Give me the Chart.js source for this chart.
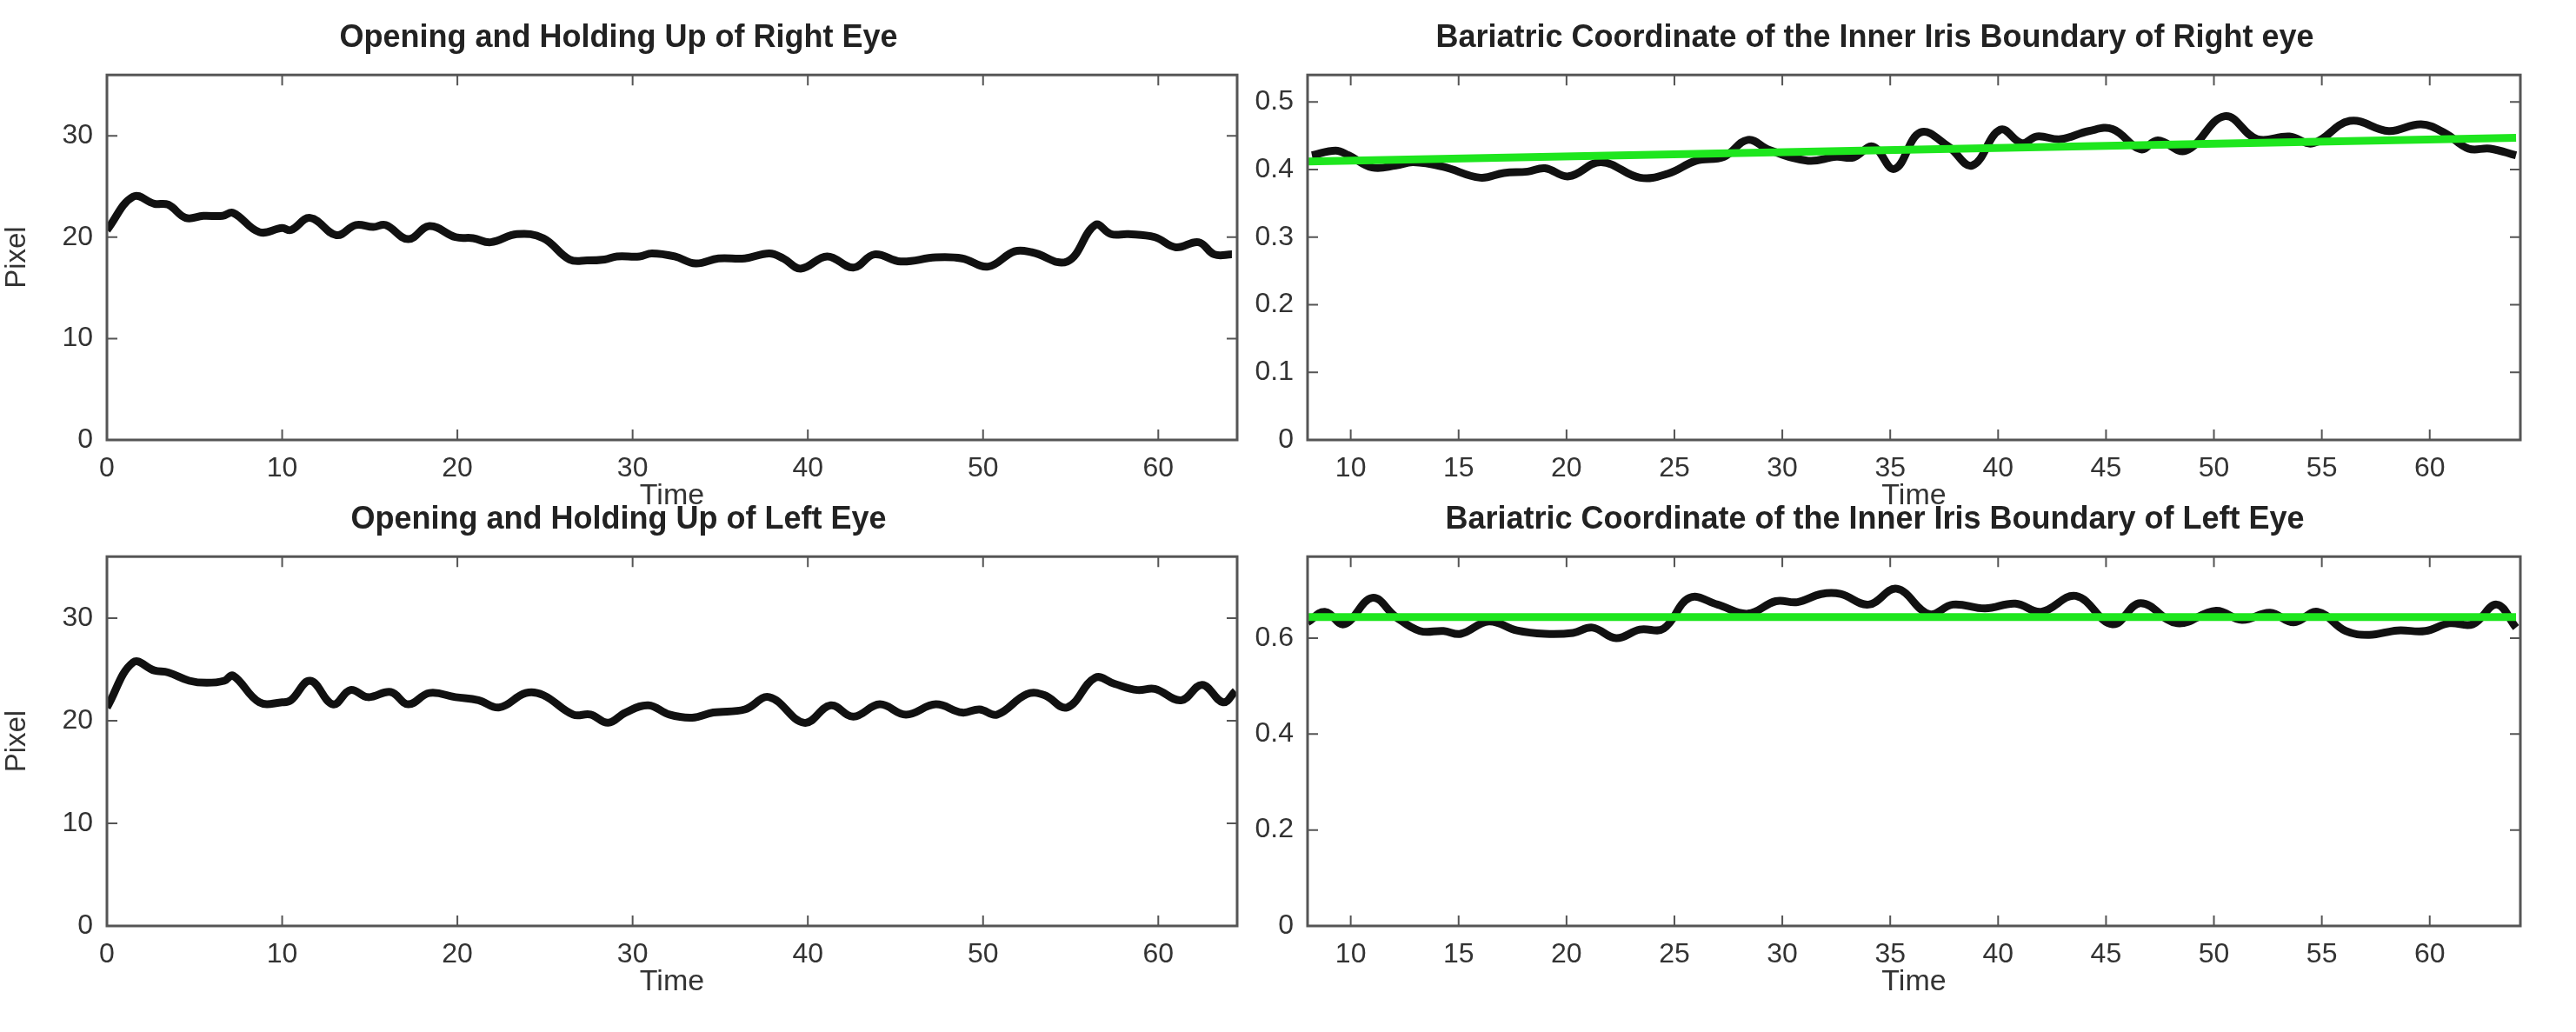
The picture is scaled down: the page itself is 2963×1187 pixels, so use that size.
<!DOCTYPE html>
<html>
<head>
<meta charset="utf-8">
<script src="https://cdn.jsdelivr.net/npm/chart.js@4.4.1/dist/chart.umd.min.js"></script>
<style>
  body { margin: 0; background: #fff; width: 2963px; height: 1187px; overflow: hidden; }
  .panel { position: absolute; }
</style>
</head>
<body>
<div class="panel" id="p1" style="left:0px;top:22px;width:1436px;height:569px"><canvas id="c1"></canvas></div>
<div class="panel" id="p2" style="left:1414px;top:22px;width:1498px;height:569px"><canvas id="c2"></canvas></div>
<div class="panel" id="p3" style="left:0px;top:576px;width:1436px;height:574px"><canvas id="c3"></canvas></div>
<div class="panel" id="p4" style="left:1414px;top:576px;width:1498px;height:574px"><canvas id="c4"></canvas></div>
<script>
// Right eye opening (pixels)
const rightOpenTime = [0, 1.5, 2.7, 3.5, 4.5, 5.5, 6.6, 7.2, 8.7, 10, 10.5, 11.6, 13.1, 14.2, 15.2, 15.9, 17.2, 18.4, 19.9, 20.9, 21.9, 23.4, 24.9, 26.4, 27.4, 28.4, 29.1, 30.4, 31.1, 32.4, 33.6, 34.9, 36.4, 37.8, 38.6, 39.6, 41.1, 42.6, 43.8, 45.3, 47.3, 48.8, 50.3, 51.8, 52.8, 54.8, 56.4, 57.3, 58.3, 59.8, 61.0, 62.3, 63.2, 64.2];
const rightOpenValues = [20.7, 24.0, 23.3, 23.2, 21.9, 22.1, 22.1, 22.4, 20.5, 20.9, 20.7, 21.9, 20.2, 21.2, 21.0, 21.2, 19.8, 21.1, 20.0, 19.9, 19.5, 20.3, 19.9, 17.8, 17.7, 17.8, 18.1, 18.1, 18.4, 18.1, 17.4, 17.9, 17.9, 18.4, 17.9, 16.9, 18.1, 17.0, 18.3, 17.6, 18.0, 17.9, 17.1, 18.6, 18.5, 17.6, 21.2, 20.3, 20.3, 20.0, 19.0, 19.5, 18.3, 18.3];

// Left eye opening (pixels)
const leftOpenTime = [0, 1.5, 2.7, 3.5, 4.7, 5.7, 6.7, 7.2, 8.7, 10, 10.5, 11.6, 12.9, 13.9, 14.9, 16.2, 17.2, 18.4, 19.9, 21.2, 22.4, 23.9, 24.9, 26.6, 27.6, 28.6, 29.6, 30.9, 32.1, 33.4, 34.6, 36.4, 37.8, 39.8, 41.3, 42.6, 44.1, 45.6, 47.3, 48.8, 49.8, 50.8, 52.5, 53.5, 54.8, 56.4, 57.5, 58.8, 59.8, 61.3, 62.5, 63.7, 64.4];
const leftOpenValues = [21.3, 25.7, 24.9, 24.7, 23.9, 23.7, 23.9, 24.4, 21.8, 21.8, 22.0, 23.9, 21.6, 23.0, 22.3, 22.8, 21.6, 22.7, 22.3, 22.0, 21.3, 22.7, 22.5, 20.6, 20.6, 19.8, 20.8, 21.5, 20.6, 20.3, 20.8, 21.1, 22.3, 19.8, 21.5, 20.4, 21.6, 20.6, 21.6, 20.8, 21.1, 20.6, 22.6, 22.5, 21.3, 24.2, 23.6, 23.0, 23.1, 22.0, 23.5, 21.8, 22.9];

// Barycentric coordinate, right eye
const rightBaryTime = [8.2, 9.3, 9.9, 11.0, 12.1, 12.9, 14.3, 16.0, 17.1, 18.2, 19.0, 20.1, 21.6, 23.4, 24.7, 26.0, 27.3, 28.4, 29.4, 31.2, 32.5, 33.3, 34.2, 35.2, 36.4, 37.7, 38.8, 40.1, 41.1, 41.8, 42.9, 44.2, 45.3, 46.6, 47.4, 48.7, 50.5, 52.0, 53.5, 54.6, 56.3, 58.1, 59.6, 60.7, 61.8, 62.8, 64.0];
const rightBaryValues = [0.421, 0.428, 0.421, 0.403, 0.406, 0.411, 0.404, 0.388, 0.395, 0.397, 0.402, 0.390, 0.411, 0.388, 0.394, 0.413, 0.419, 0.444, 0.429, 0.413, 0.419, 0.418, 0.434, 0.401, 0.455, 0.434, 0.406, 0.459, 0.439, 0.449, 0.445, 0.457, 0.460, 0.430, 0.443, 0.428, 0.479, 0.445, 0.449, 0.439, 0.472, 0.457, 0.467, 0.454, 0.431, 0.431, 0.421];
const rightFitTime = [8, 64];
const rightFitValues = [0.412, 0.447];

// Barycentric coordinate, left eye
const leftBaryTime = [8.0, 8.8, 9.7, 11.0, 12.1, 13.2, 14.3, 15.1, 16.4, 17.7, 19.0, 20.3, 21.2, 22.3, 23.4, 24.5, 25.7, 27.0, 28.4, 29.7, 30.7, 31.8, 32.7, 34.0, 35.3, 36.8, 37.9, 39.4, 40.8, 42.0, 43.6, 45.3, 46.6, 48.3, 50.1, 51.3, 52.6, 53.7, 54.8, 56.1, 57.2, 58.5, 59.8, 60.9, 62.0, 63.1, 64.0];
const leftBaryValues = [0.633, 0.655, 0.629, 0.684, 0.644, 0.615, 0.615, 0.609, 0.635, 0.616, 0.609, 0.611, 0.622, 0.600, 0.618, 0.620, 0.684, 0.670, 0.651, 0.677, 0.675, 0.692, 0.692, 0.670, 0.703, 0.650, 0.670, 0.662, 0.672, 0.655, 0.688, 0.629, 0.673, 0.631, 0.657, 0.638, 0.653, 0.633, 0.655, 0.615, 0.607, 0.616, 0.615, 0.631, 0.629, 0.670, 0.622];
const leftFitTime = [8, 64];
const leftFitValues = [0.644, 0.644];

const openXTicks = [0, 10, 20, 30, 40, 50, 60];
const openYTicks = [0, 10, 20, 30];
const baryXTicks = [10, 15, 20, 25, 30, 35, 40, 45, 50, 55, 60];
const rightBaryYTicks = [0, 0.1, 0.2, 0.3, 0.4, 0.5];
const leftBaryYTicks = [0, 0.2, 0.4, 0.6];

const FONT = "'Liberation Sans', Arial, sans-serif";
const AXIS = "#555";
const TEXT = "#333";

const points = (xs, ys) => xs.map((x, i) => ({ x, y: ys[i] }));

// MATLAB-like box with ticks pointing inward
const matlabBox = {
  id: "matlabBox",
  afterDraw(chart) {
    const { ctx, chartArea: a, scales } = chart;
    ctx.save();
    ctx.strokeStyle = AXIS;
    ctx.lineWidth = 3;
    ctx.strokeRect(a.left, a.top, a.right - a.left, a.bottom - a.top);
    ctx.lineWidth = 2;
    const len = 12;
    scales.x.ticks.forEach(t => {
      const px = scales.x.getPixelForValue(t.value);
      ctx.beginPath();
      ctx.moveTo(px, a.bottom); ctx.lineTo(px, a.bottom - len);
      ctx.moveTo(px, a.top); ctx.lineTo(px, a.top + len);
      ctx.stroke();
    });
    scales.y.ticks.forEach(t => {
      const py = scales.y.getPixelForValue(t.value);
      ctx.beginPath();
      ctx.moveTo(a.left, py); ctx.lineTo(a.left + len, py);
      ctx.moveTo(a.right, py); ctx.lineTo(a.right - len, py);
      ctx.stroke();
    });
    ctx.restore();
  }
};

function makeChart(id, opts) {
  const datasets = [{
    data: points(opts.time, opts.values),
    borderColor: "#111",
    borderWidth: 9,
    pointRadius: 0,
    tension: 0.4,
    order: 2
  }];
  if (opts.fitTime) {
    datasets.push({
      data: points(opts.fitTime, opts.fitValues),
      borderColor: "#1ee61e",
      borderWidth: 9,
      pointRadius: 0,
      order: 1
    });
  }
  return new Chart(document.getElementById(id), {
    type: "line",
    data: { datasets },
    options: {
      responsive: true,
      maintainAspectRatio: false,
      animation: false,
      layout: { padding: { right: 13, top: 0, bottom: 0, left: 0 } },
      plugins: {
        legend: { display: false },
        tooltip: { enabled: false },
        title: {
          display: true,
          text: opts.title,
          color: "#222",
          font: { family: FONT, size: 36, weight: "bold" },
          padding: { top: 0, bottom: 21 }
        }
      },
      scales: {
        x: {
          type: "linear",
          min: opts.xMin,
          max: opts.xMax,
          afterBuildTicks: s => { s.ticks = opts.xTicks.map(v => ({ value: v })); },
          afterFit: s => { s.height = 85; },
          grid: { display: false },
          border: { display: false },
          ticks: { color: TEXT, font: { family: FONT, size: 32 }, padding: 6, maxRotation: 0 },
          title: { display: true, text: "Time", color: TEXT, font: { family: FONT, size: 34 }, padding: 0 }
        },
        y: {
          min: 0,
          max: opts.yMax,
          afterBuildTicks: s => { s.ticks = opts.yTicks.map(v => ({ value: v })); },
          afterFit: s => { s.width = opts.yWidth; },
          grid: { display: false },
          border: { display: false },
          ticks: { color: TEXT, font: { family: FONT, size: 32 }, padding: 8 },
          title: { display: !!opts.yTitle, text: opts.yTitle || "", color: TEXT, font: { family: FONT, size: 33 }, padding: 0 }
        }
      }
    },
    plugins: [matlabBox]
  });
}

makeChart("c1", {
  title: "Opening and Holding Up of Right Eye",
  time: rightOpenTime, values: rightOpenValues,
  xMin: 0, xMax: 64.5, xTicks: openXTicks,
  yMax: 36, yTicks: openYTicks, yTitle: "Pixel", yWidth: 123
});
makeChart("c2", {
  title: "Bariatric Coordinate of the Inner Iris Boundary of Right eye",
  time: rightBaryTime, values: rightBaryValues,
  fitTime: rightFitTime, fitValues: rightFitValues,
  xMin: 8, xMax: 64.2, xTicks: baryXTicks,
  yMax: 0.54, yTicks: rightBaryYTicks, yWidth: 90
});
makeChart("c3", {
  title: "Opening and Holding Up of Left Eye",
  time: leftOpenTime, values: leftOpenValues,
  xMin: 0, xMax: 64.5, xTicks: openXTicks,
  yMax: 36, yTicks: openYTicks, yTitle: "Pixel", yWidth: 123
});
makeChart("c4", {
  title: "Bariatric Coordinate of the Inner Iris Boundary of Left Eye",
  time: leftBaryTime, values: leftBaryValues,
  fitTime: leftFitTime, fitValues: leftFitValues,
  xMin: 8, xMax: 64.2, xTicks: baryXTicks,
  yMax: 0.77, yTicks: leftBaryYTicks, yWidth: 90
});
</script>
</body>
</html>
